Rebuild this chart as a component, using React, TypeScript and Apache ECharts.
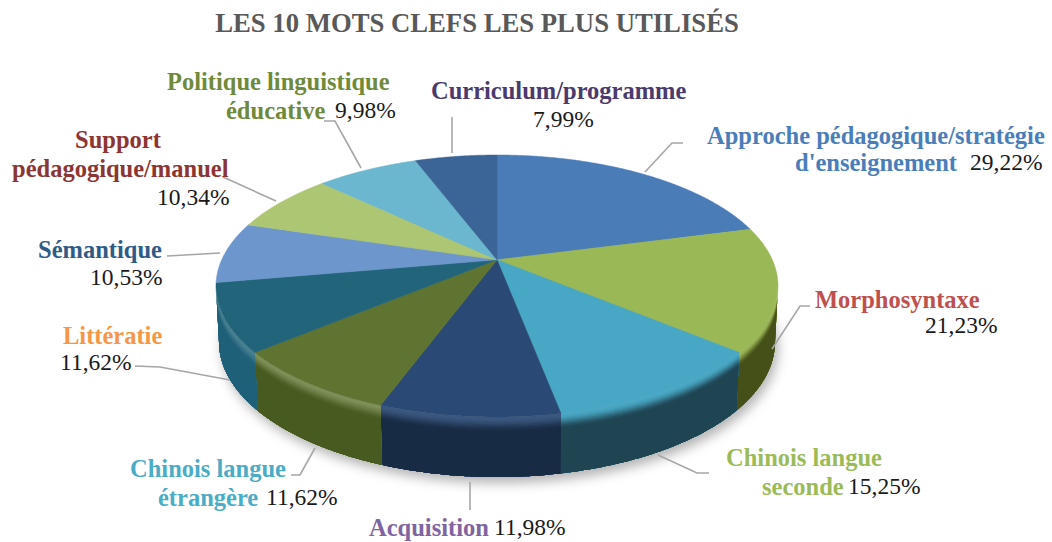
import React, { useEffect, useRef } from "react";
import * as echarts from "echarts";

const titleText = "LES 10 MOTS CLEFS LES PLUS UTILISÉS";
const categories = [
  "Approche pédagogique/stratégie d'enseignement",
  "Morphosyntaxe",
  "Chinois langue seconde",
  "Acquisition",
  "Chinois langue étrangère",
  "Littératie",
  "Sémantique",
  "Support pédagogique/manuel",
  "Politique linguistique éducative",
  "Curriculum/programme",
];
const values = [29.22, 21.23, 15.25, 11.98, 11.62, 11.62, 10.53, 10.34, 9.98, 7.99];

const faceColors = ["#4a7cb8", "#9ab855", "#48a7c4", "#2a4a75", "#5f7430", "#22657a", "#6d97cc", "#adc673", "#6ab7cf", "#3a6596"];
const sideColors = ["#2f5078", "#454f18", "#1f4452", "#182b44", "#475a20", "#1f6079", "#4a6f9c", "#7f9550", "#4a8fa5", "#274a70"];
const rimLift = [0.1, 0.03, 0.0, 0.08, 0.2, 0.18, 0.2, 0.1, 0.1, 0.1];
const nameColors = ["#4a7ebb", "#c0504d", "#9bbb59", "#8064a2", "#4bacc6", "#f79646", "#2f5c87", "#8c3533", "#6f8a3a", "#4a3a6e"];

const SERIF = '"Liberation Serif", "Times New Roman", serif';
const apexK = 0.2;
const TOP = { cx: 497, cy: 286, rx: 281, ry: 131 };
const BOT = { cx: 497, cy: 342, rx: 278, ry: 135 };

const nameRuns: [number, string, number, number][] = [
  [0, "Approche pédagogique/stratégie", 707, 135],
  [0, "d'enseignement", 795, 162],
  [1, "Morphosyntaxe", 815, 299],
  [2, "Chinois langue", 726, 457],
  [2, "seconde", 762, 486],
  [3, "Acquisition", 369, 527],
  [4, "Chinois langue", 130, 468],
  [4, "étrangère", 158, 497],
  [5, "Littératie", 63, 335],
  [6, "Sémantique", 38, 249],
  [7, "Support", 75, 139],
  [7, "pédagogique/manuel", 12, 168],
  [8, "Politique linguistique", 167, 81],
  [8, "éducative", 226, 110],
  [9, "Curriculum/programme", 431, 90],
];
const valuePos: [number, number][] = [
  [970, 162], [925, 325], [848, 486], [494, 527], [266, 497],
  [60, 362], [90, 277], [157, 197], [335, 110], [533, 119],
];
const leaders: number[][][] = [
  [[645, 172], [672, 143], [683, 143]],
  [[772, 349], [800, 306], [810, 306]],
  [[658, 455], [697, 473], [709, 473]],
  [[470, 482], [470, 510]],
  [[315, 448], [300, 475], [291, 475]],
  [[230, 380], [160, 367], [135, 366]],
  [[220, 253], [167, 256]],
  [[276, 201], [223, 177]],
  [[361, 168], [335, 121], [324, 121]],
  [[452, 153], [452, 117]],
];

const total = values.reduce((a, b) => a + b, 0);
const angleRows: number[][] = [];
{
  let acc = 0;
  values.forEach((v, i) => {
    angleRows.push([(acc / total) * 360, ((acc + v) / total) * 360, i]);
    acc += v;
  });
}

function unit(deg: number): [number, number] {
  const t = (deg * Math.PI) / 180;
  const x = Math.sin(t);
  const y = -Math.cos(t);
  const d = 1 - apexK * y;
  return [(Math.sqrt(1 - apexK * apexK) * x) / d, (y - apexK) / d];
}
function at(e: typeof TOP, u: [number, number]): number[] {
  return [e.cx + e.rx * u[0], e.cy + e.ry * u[1]];
}
function lerp(a: number[], b: number[], t: number): number[] {
  return [a[0] + (b[0] - a[0]) * t, a[1] + (b[1] - a[1]) * t];
}
function sweep(a: number, b: number): number[] {
  const out: number[] = [];
  for (let d = a; d < b; d += 0.5) out.push(d);
  out.push(b);
  return out;
}
function rgb(h: string) {
  return [1, 3, 5].map((i) => parseInt(h.slice(i, i + 2), 16));
}
function mix(a: string, b: string, t: number) {
  const x = rgb(a);
  const y = rgb(b);
  return `rgb(${x.map((v, i) => Math.round(v + (y[i] - v) * t)).join(",")})`;
}
function mixHex(a: string, b: string, t: number) {
  const x = rgb(a);
  const y = rgb(b);
  return "#" + x.map((v, i) => Math.round(v + (y[i] - v) * t).toString(16).padStart(2, "0")).join("");
}

function renderShadow() {
  const pts = sweep(0, 360).map((d) => at(BOT, unit(d)));
  return {
    type: "polygon",
    shape: { points: pts },
    style: { fill: "#b0b0b0", shadowBlur: 12, shadowColor: "rgba(0,0,0,0.3)", shadowOffsetY: 6, shadowOffsetX: 3 },
  };
}

function renderSide(_: any, api: any) {
  const i = api.value(2);
  const angles = sweep(api.value(0), api.value(1)).filter((d) => unit(d)[1] >= 0);
  if (angles.length < 2) return { type: "group", children: [] };
  const tops = angles.map((d) => at(TOP, unit(d)));
  const bots = angles.map((d) => at(BOT, unit(d)));
  const children: any[] = [];
  const lightRim = mixHex(faceColors[i], "#ffffff", rimLift[i]);
  const bands = 8;
  const depth = 0.24;
  for (let b = 0; b <= bands; b++) {
    const t = (b / bands) * depth;
    const upper = tops.map((p, j) => lerp(p, bots[j], t));
    const pts = upper.concat(bots.slice().reverse());
    const s = b / bands;
    children.push({
      type: "polygon",
      shape: { points: pts },
      style: { fill: mix(lightRim, sideColors[i], s * s * (3 - 2 * s)) },
    });
  }
  return { type: "group", children };
}

function renderFace(_: any, api: any) {
  const i = api.value(2);
  const outer = sweep(api.value(0), api.value(1)).map((d) => at(TOP, unit(d)));
  const apex = at(TOP, [0, -apexK]);
  return {
    type: "polygon",
    shape: { points: [apex, ...outer] },
    style: { fill: faceColors[i], stroke: faceColors[i], lineWidth: 0.5 },
  };
}

export default function App() {
  const ref = useRef<HTMLDivElement>(null);
  useEffect(() => {
    document.body.style.margin = "0";
    document.body.style.background = "#ffffff";
    const chart = echarts.init(ref.current!, null, { renderer: "svg" });
    const graphics: any[] = [];
    leaders.forEach((pts) => {
      graphics.push({
        type: "polyline",
        z: 5,
        shape: { points: pts },
        style: { stroke: "#a6a6a6", lineWidth: 1.6, fill: "none" },
      });
    });
    nameRuns.forEach(([idx, text, x, y]) => {
      graphics.push({
        type: "text",
        z: 6,
        x,
        y,
        style: { text, fill: nameColors[idx], font: `bold 24.5px ${SERIF}`, align: "left", verticalAlign: "middle" },
      });
    });
    values.forEach((v, i) => {
      graphics.push({
        type: "text",
        z: 6,
        x: valuePos[i][0],
        y: valuePos[i][1],
        style: {
          text: v.toFixed(2).replace(".", ",") + "%",
          fill: "#1a1a1a",
          font: `23.5px ${SERIF}`,
          align: "left",
          verticalAlign: "middle",
        },
      });
    });
    chart.setOption({
      animation: false,
      backgroundColor: "#ffffff",
      title: {
        text: titleText,
        left: 472,
        top: 18,
        textAlign: "center",
        textVerticalAlign: "middle",
        textStyle: { fontFamily: SERIF, fontWeight: "bold", fontSize: 26.7, color: "#595959" },
      },
      tooltip: { show: false },
      graphic: graphics,
      series: [
        { type: "custom", coordinateSystem: "none", silent: true, z: 1, data: [[0]], renderItem: renderShadow },
        { type: "custom", name: "flancs", coordinateSystem: "none", silent: true, z: 2, data: angleRows, renderItem: renderSide },
        {
          type: "custom",
          name: "parts",
          coordinateSystem: "none",
          silent: true,
          z: 3,
          data: angleRows.map((r) => ({ value: r, name: categories[r[2]] })),
          renderItem: renderFace,
        },
      ],
    });
    return () => chart.dispose();
  }, []);
  return <div ref={ref} style={{ width: 1052, height: 542 }} />;
}
